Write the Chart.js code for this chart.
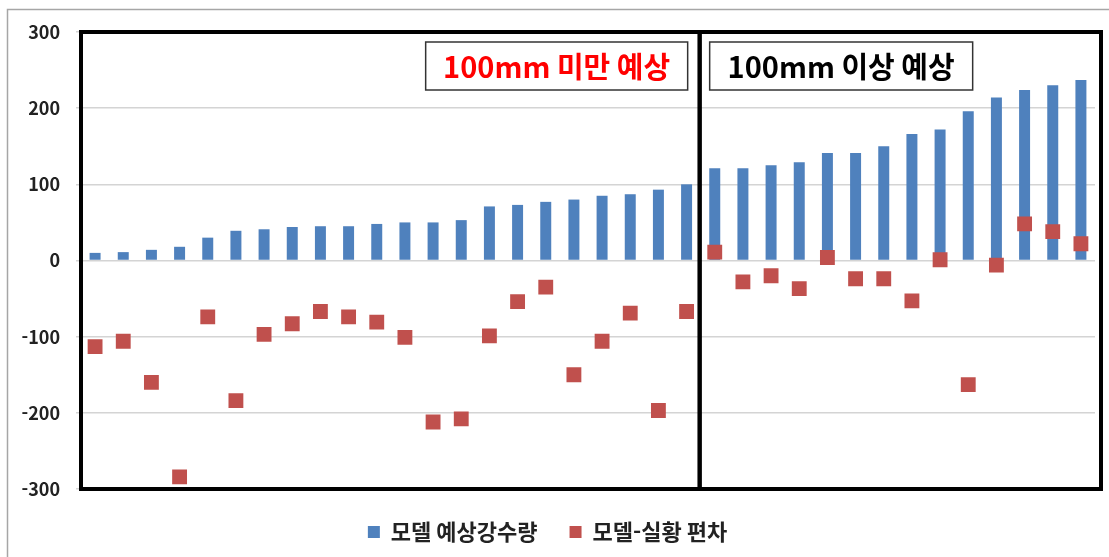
<!DOCTYPE html>
<html lang="ko">
<head>
<meta charset="utf-8">
<title>모델 예상강수량 / 모델-실황 편차</title>
<script src="https://cdn.jsdelivr.net/npm/chart.js@4.4.1/dist/chart.umd.min.js"></script>
<style>
    html, body { margin: 0; padding: 0; background: #fff; }
    #wrap { width: 1109px; height: 557px; }
</style>
</head>
<body>
<div id="wrap"><canvas id="chart" width="1109" height="557"></canvas></div>
<script>
// Stations, sorted by forecast rainfall
const categories = ['1', '2', '3', '4', '5', '6', '7', '8', '9', '10', '11', '12',
    '13', '14', '15', '16', '17', '18', '19', '20', '21', '22', '23', '24',
    '25', '26', '27', '28', '29', '30', '31', '32', '33', '34', '35', '36'];

// 모델 예상강수량 (mm)
const forecastRain = [10, 11, 14, 18, 30, 39, 41, 44, 45, 45, 48, 50,
    50, 53, 71, 73, 77, 80, 85, 87, 93, 100, 121, 121,
    125, 129, 141, 141, 150, 166, 172, 196, 214, 224, 230, 237];

// 모델-실황 편차 (mm)
const forecastBias = [-113, -106, -160, -284, -74, -184, -97, -83, -67, -74, -81, -101,
    -212, -208, -99, -54, -35, -150, -106, -69, -197, -67, 11, -28,
    -20, -37, 4, -24, -24, -53, 1, -163, -6, 48, 38, 22];

const yTicks = [-300, -200, -100, 0, 100, 200, 300];
const seriesNames = ['모델 예상강수량', '모델-실황 편차'];
const groupLabels = ['100mm 미만 예상', '100mm 이상 예상'];
const splitIndex = 22; // first 22 stations are forecast under 100mm

const FONT = '"Noto Sans CJK KR", "Noto Sans", sans-serif';
Chart.defaults.font.family = FONT;

// Outer border, the two group frames and their captions
const framePlugin = {
    id: 'groupFrames',
    afterDraw(chart) {
        const { ctx, chartArea: area, scales: { x, y } } = chart;
        const top = y.getPixelForValue(yTicks[yTicks.length - 1]);
        const bottom = y.getPixelForValue(yTicks[0]);
        const split = x.getPixelForValue(splitIndex - 0.5) - 1;
        const right = area.right + 6;

        ctx.save();
        ctx.strokeStyle = '#a6a6a6';
        ctx.lineWidth = 1.5;
        ctx.beginPath();
        ctx.moveTo(7.5, chart.height);
        ctx.lineTo(7.5, 9.5);
        ctx.lineTo(chart.width, 9.5);
        ctx.stroke();

        ctx.strokeStyle = '#000';
        ctx.lineWidth = 4;
        ctx.strokeRect(area.left, top, split - area.left, bottom - top);
        ctx.strokeRect(split, top, right - split, bottom - top);

        const captions = [
            { x0: split - 274, x1: split - 12, color: '#ff0000', text: groupLabels[0] },
            { x0: split + 10, x1: split + 273, color: '#000000', text: groupLabels[1] }
        ];
        captions.forEach(c => {
            ctx.fillStyle = '#fff';
            ctx.fillRect(c.x0, top + 10, c.x1 - c.x0, 48);
            ctx.strokeStyle = '#333';
            ctx.lineWidth = 1.5;
            ctx.strokeRect(c.x0, top + 10, c.x1 - c.x0, 48);
            ctx.fillStyle = c.color;
            ctx.font = 'bold 29px ' + FONT;
            ctx.textAlign = 'center';
            ctx.textBaseline = 'middle';
            ctx.fillText(c.text, (c.x0 + c.x1) / 2, top + 35);
        });
        ctx.restore();
    }
};

new Chart(document.getElementById('chart'), {
    type: 'bar',
    data: {
        labels: categories,
        datasets: [{
            label: seriesNames[0],
            data: forecastRain,
            backgroundColor: '#4f81bd',
            borderWidth: 0,
            barPercentage: 0.39,
            categoryPercentage: 1,
            order: 1
        }, {
            type: 'line',
            label: seriesNames[1],
            data: forecastBias,
            showLine: false,
            backgroundColor: '#c0504d',
            borderColor: '#c0504d',
            borderWidth: 0,
            pointStyle: 'rect',
            pointRadius: 10.5,
            pointHoverRadius: 10.5,
            pointBorderWidth: 0,
            order: 0
        }]
    },
    options: {
        responsive: false,
        animation: false,
        layout: { padding: { left: 0, right: 14, top: 32, bottom: 4 } },
        plugins: {
            tooltip: { enabled: false },
            legend: {
                position: 'bottom',
                labels: {
                    boxWidth: 12,
                    boxHeight: 12,
                    padding: 32,
                    color: '#222',
                    font: { size: 22, weight: 'bold' },
                    sort: (a, b) => a.datasetIndex - b.datasetIndex
                }
            }
        },
        scales: {
            x: {
                display: false
            },
            y: {
                min: yTicks[0],
                max: yTicks[yTicks.length - 1],
                afterBuildTicks: s => { s.ticks = yTicks.map(v => ({ value: v })); },
                afterFit: s => { s.width = 81; },
                border: { display: false },
                grid: { color: '#d4d4d4', lineWidth: 1.5, tickLength: 5 },
                ticks: {
                    padding: 16,
                    color: '#222',
                    font: { size: 18, weight: 'bold' }
                }
            }
        }
    },
    plugins: [framePlugin]
});
</script>
</body>
</html>
